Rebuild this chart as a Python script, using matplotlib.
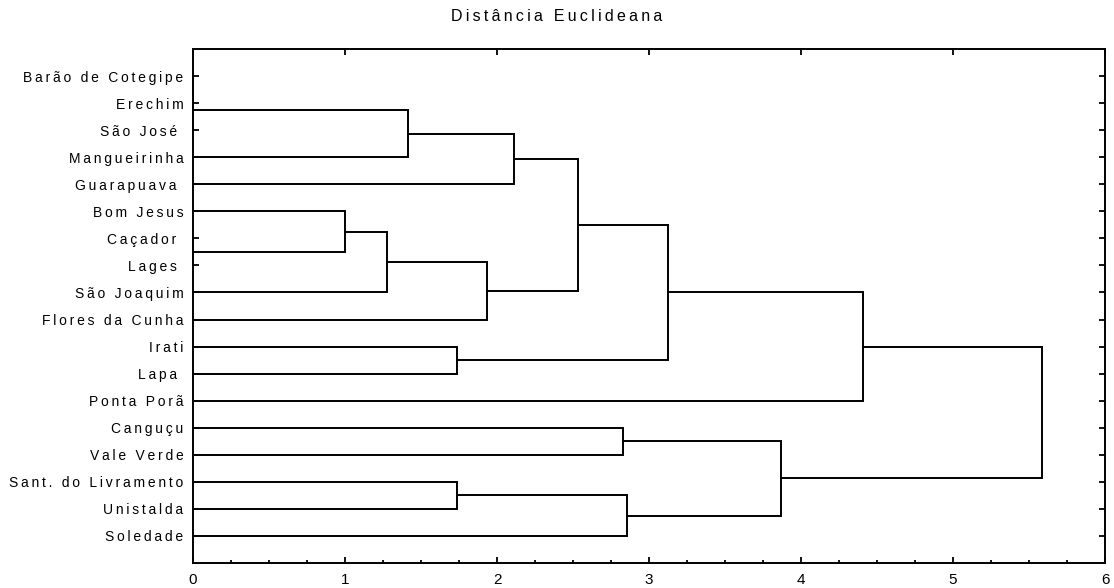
import matplotlib
matplotlib.use('Agg')
import matplotlib.pyplot as plt
from matplotlib.ticker import MultipleLocator

plt.rcParams['font.family'] = ['Liberation Sans', 'DejaVu Sans']

# leaf order from top to bottom
leaves = ['Barão de Cotegipe', 'Erechim', 'São José ', 'Mangueirinha', 'Guarapuava ',
          'Bom Jesus', 'Caçador ', 'Lages ', 'São Joaquim', 'Flores da Cunha',
          'Irati', 'Lapa ', 'Ponta Porã', 'Canguçu', 'Vale Verde',
          'Sant. do Livramento', 'Unistalda', 'Soledade']

# merges: (left, right, distance); ints < 0 refer to earlier clusters (-1 -> cluster 0 ...)
merge_a = ['Barão de Cotegipe', -1, -2, -3, 'Caçador ', 'Bom Jesus', -6, -7, -4, 'Irati',
           -9, -11, 'Canguçu', 'Sant. do Livramento', -14, -13, -12]
merge_b = ['Erechim', 'São José ', 'Mangueirinha', 'Guarapuava ', 'Lages ', -5, 'São Joaquim',
           'Flores da Cunha', -8, 'Lapa ', -10, 'Ponta Porã', 'Vale Verde', 'Unistalda',
           'Soledade', -15, -16]
merge_dist = [0.0, 0.0, 1.414, 2.11, 0.0, 0.997, 1.277, 1.936, 2.53, 1.736,
              3.127, 4.41, 2.83, 1.736, 2.853, 3.87, 5.584]
x_ticks = [0, 1, 2, 3, 4, 5, 6]


def spaced(s):
    return '\u2009'.join(s)


fig = plt.figure(figsize=(11.14, 5.88), dpi=100)
ax = fig.add_axes([0.1733, 0.0425, 0.8187, 0.8742])

pos = {name: i + 1 for i, name in enumerate(leaves)}
node_y = []
node_x = []


def get(k):
    if isinstance(k, str):
        return 0.0, pos[k]
    return node_x[-k - 1], node_y[-k - 1]


for a, b, d in zip(merge_a, merge_b, merge_dist):
    xa, ya = get(a)
    xb, yb = get(b)
    ax.plot([xa, d, d, xb], [ya, ya, yb, yb], color='black', lw=1.4,
            solid_joinstyle='miter', clip_on=False)
    node_x.append(d)
    node_y.append((ya + yb) / 2)

ax.set_xlim(0, 6)
ax.set_ylim(len(leaves) + 1, 0)
ax.set_yticks(range(1, len(leaves) + 1))
ax.set_yticklabels([spaced(s) for s in leaves], fontsize=10)
ax.set_xticks(x_ticks)
ax.set_xticklabels([str(t) for t in x_ticks], fontsize=11)
ax.xaxis.set_minor_locator(MultipleLocator(0.25))
ax.tick_params(axis='x', which='major', direction='in', length=4, width=1.3,
               top=True, pad=7)
ax.tick_params(axis='x', which='minor', direction='in', length=2.5, width=1.3)
ax.tick_params(axis='y', which='major', direction='in', length=4, width=1.3,
               right=True, pad=7)
for sp in ax.spines.values():
    sp.set_linewidth(1.4)

fig.text(0.5, 0.972, spaced('Distância Euclideana'), ha='center', va='center', fontsize=11.5)

fig.savefig('out.png', dpi=100)
